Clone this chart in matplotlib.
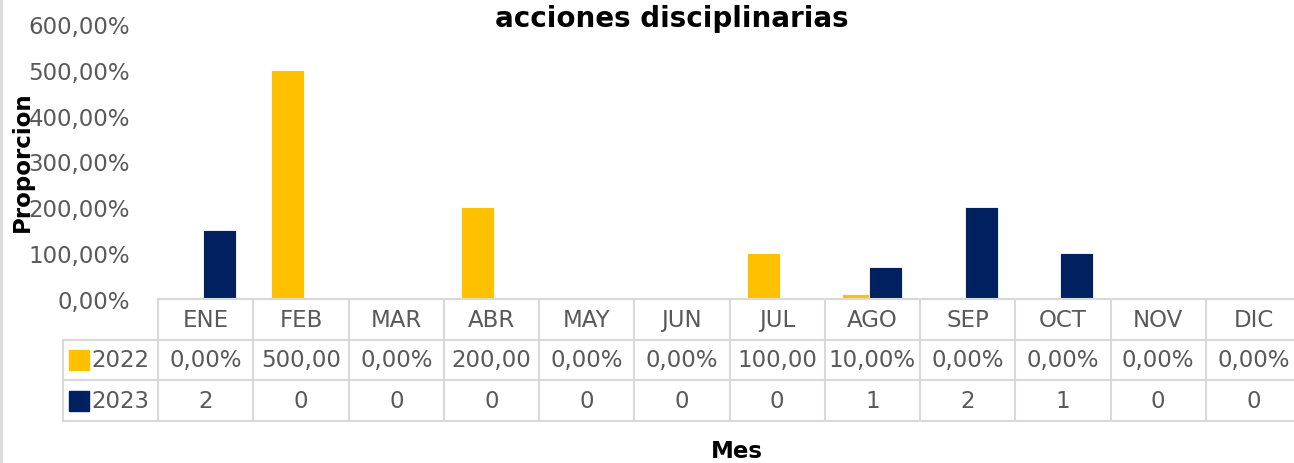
import numpy as np
import matplotlib
matplotlib.use("Agg")
import matplotlib.pyplot as plt
from matplotlib.lines import Line2D

# data
meses = ["ENE", "FEB", "MAR", "ABR", "MAY", "JUN", "JUL", "AGO", "SEP", "OCT", "NOV", "DIC"]
v2022 = [0.0, 5.0, 0.0, 2.0, 0.0, 0.0, 1.0, 0.10, 0.0, 0.0, 0.0, 0.0]
v2023 = [1.5, 0.0, 0.0, 0.0, 0.0, 0.0, 0.0, 0.7, 2.0, 1.0, 0.0, 0.0]
yticks = [0, 1, 2, 3, 4, 5, 6]

c22 = "#FFC000"
c23 = "#002060"
grey = "#595959"
line = "#D9D9D9"
fs = 16.5

W, H = 1294, 464


def pct(v):
    return f"{v * 100:.2f}%".replace(".", ",")


def cell_22(v):
    # excel cuts the % off when the number is too wide for the cell
    s = pct(v)
    return s[:-1] if v >= 1 else s


fig = plt.figure(figsize=(W / 100, H / 100), dpi=100)
fig.patch.set_facecolor("white")

ax = fig.add_axes([158 / W, 1 - 300 / H, (1301 - 158) / W, (300 - 25) / H])
x = np.arange(len(meses))
bw = 0.346
off = 0.142
ax.bar(x - off, v2022, bw, color=c22, edgecolor="white", linewidth=0.6, zorder=2)
ax.bar(x + off, v2023, bw, color=c23, edgecolor="white", linewidth=0.6, zorder=3)
ax.set_xlim(-0.5, 11.5)
ax.set_ylim(0, 6)
ax.set_xticks([])
ax.set_yticks(yticks)
ax.set_yticklabels([pct(t) for t in yticks], fontsize=fs, color=grey)
ax.tick_params(axis="y", length=0, pad=20)
for s in ["top", "right", "left"]:
    ax.spines[s].set_visible(False)
ax.spines["bottom"].set_color(line)
ax.spines["bottom"].set_linewidth(1.5)

# data table under the plot
tab = fig.add_axes([63 / W, 1 - 422 / H, (1301 - 63) / W, (422 - 300) / H])
tab.set_xlim(-1.5, 11.5)
tab.set_ylim(3, 0)
tab.axis("off")
kw = dict(color=line, lw=1.5, clip_on=False)
tab.plot([-0.5, 11.5], [0, 0], **kw)
for yy in [1, 2, 3]:
    tab.plot([-1.5, 11.5], [yy, yy], **kw)
tab.plot([-1.5, -1.5], [1, 3], **kw)
for xx in np.arange(-0.5, 12, 1):
    tab.plot([xx, xx], [0, 3], **kw)

for i, m in enumerate(meses):
    tab.text(i, 0.5, m, ha="center", va="center", fontsize=fs, color=grey)
    tab.text(i, 1.5, cell_22(v2022[i]), ha="center", va="center", fontsize=fs, color=grey)
    tab.text(i, 2.5, f"{v2023[i]:.0f}", ha="center", va="center", fontsize=fs, color=grey)

for row, lab, col in [(1.5, "2022", c22), (2.5, "2023", c23)]:
    tab.plot(-1.33, row, marker="s", ms=14, color=col, clip_on=False)
    tab.text(-1.2, row, lab, ha="left", va="center", fontsize=fs, color=grey)

fig.text(672 / W, 1 - 27 / H, "acciones disciplinarias", ha="center", va="baseline",
         fontsize=20, fontweight="bold", color="black")
fig.text(22 / W, 1 - 162 / H, "Proporcion", ha="center", va="center", rotation=90,
         fontsize=16.5, fontweight="bold", color="black")
fig.text(737 / W, 1 - 452 / H, "Mes", ha="center", va="center",
         fontsize=16.5, fontweight="bold", color="black")

fig.add_artist(Line2D([1 / W, 1 / W], [0, 1], color=line, lw=2, transform=fig.transFigure))

fig.savefig("out.png", dpi=100)
